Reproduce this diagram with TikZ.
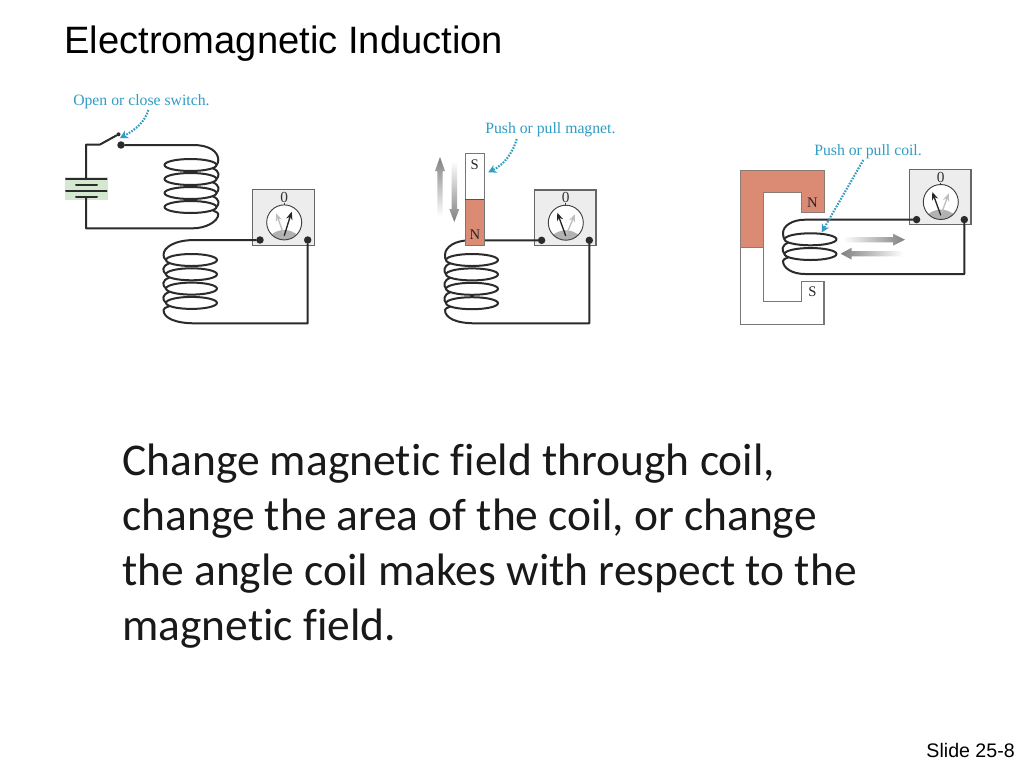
\documentclass[tikz,border=0pt]{standalone}
\usepackage{fontspec}
\setmainfont{Liberation Serif}
\newfontfamily\arialf{Liberation Sans}
\newfontfamily\bodyf[Ligatures={NoCommon,NoRare,NoContextual}]{Carlito}
\usetikzlibrary{arrows.meta}
\definecolor{wirec}{HTML}{2B2B2B}
\definecolor{salmon}{HTML}{DB8B74}
\definecolor{callout}{HTML}{2F9CC4}
\definecolor{battg}{HTML}{D3E8CF}
\definecolor{meterbg}{HTML}{EDEDEE}
\definecolor{framec}{HTML}{777777}
\tikzset{
  wire/.style={draw=wirec,line width=1.5pt,line cap=round,line join=round},
  dotn/.style={circle,fill=wirec,inner sep=0pt,minimum size=5.6pt},
  calloutlab/.style={text=callout,font=\fontsize{11.8pt}{13pt}\selectfont,anchor=base west,inner sep=0pt},
  calloutarr/.style={draw=callout,line width=1.6pt,dash pattern=on 1.2pt off 1pt,-{Stealth[length=6pt,width=6.5pt,fill=callout,line width=0pt]}},
  magnetlab/.style={text=black!85,font=\fontsize{11pt}{12pt}\selectfont,inner sep=0pt},
  bodytxt/.style={font=\bodyf\fontsize{34.1pt}{41pt}\selectfont,anchor=base west,inner sep=0pt,text=black!90},
  magframe/.style={draw=framec,line width=1pt,line join=miter},
}
\newcommand{\galvo}[7]{%
  \begin{scope}[shift={(#2,#3)}]
    \draw[fill=meterbg,draw=black!60,line width=1pt] (0,0) rectangle (61.7,55.5);
    \begin{scope}
      \clip (31.5,32.7) circle[radius=17.5];
      \fill[white] (31.5,32.7) circle[radius=17.5];
      \fill[black!30] (31.5,60.3) circle[radius=20];
    \end{scope}
    \draw[black!75,line width=0.7pt] (31.5,32.7) circle[radius=17.5];
    \draw[black!75,line width=0.7pt] (31.5,13.2) -- (31.5,15.6);
    \node[text=black!80,font=\fontsize{11.5pt}{12pt}\selectfont,inner sep=0pt] (#1z) at (31.5,7.8) {0};
    \coordinate (#1b) at (31.5,46);
    \coordinate (#1k) at (#4,#5);
    \coordinate (#1g) at (#6,#7);
    \draw[black!25,line width=1pt,-{Stealth[length=6pt,width=4.8pt]}] (#1b) -- (#1g);
    \draw[black!85,line width=1pt,-{Stealth[length=6pt,width=4.8pt]}] (#1b) -- (#1k);
    \node[dotn] (#1l) at (7.3,50.3) {};
    \node[dotn] (#1r) at (55,50.3) {};
  \end{scope}}
% coil: #1 centre x, #2 half width, #3 first y, #4 step, #5 count
\newcommand{\ellcoil}[5]{%
  \foreach \i in {1,...,#5}{
    \draw[wire] (#1,{#3+(\i-1)*#4}) ellipse[x radius=#2,y radius=6];
  }}
\begin{document}
\begin{tikzpicture}[x=0.75pt,y=-0.75pt]
\useasboundingbox (0,0) rectangle (1024,768);
\fill[white] (0,0) rectangle (1024,768);

% Title / body / footer
\node[font=\arialf\fontsize{28.6pt}{32pt}\selectfont,anchor=base west,inner sep=0pt,text=black] (title) at (64,53) {Electromagnetic Induction};
\node[bodytxt] (b1) at (122,475) {Change magnetic field through coil,};
\node[bodytxt] (b2) at (122,530) {change the area of the coil, or change};
\node[bodytxt] (b3) at (122,585) {the angle coil makes with respect to the};
\node[bodytxt] (b4) at (122,640) {magnetic field.};
\node[font=\arialf\fontsize{14.7pt}{16pt}\selectfont,anchor=base east,inner sep=0pt,text=black] (slide) at (1015,757) {Slide 25-8};

% ---------- Left apparatus
\node[calloutlab] (l1) at (73,105) {Open or close switch.};
\fill[battg] (65,176.7) rectangle (108,200);
\coordinate (battop) at (86,179);
\coordinate (batbot) at (86,197.3);
\draw[wire] (66,179) -- (106.7,179);
\draw[wire] (76,185.3) -- (97,185.3);
\draw[wire] (66,191) -- (106.7,191);
\draw[wire] (76,197.3) -- (97,197.3);
\coordinate (hinge) at (100,144.5);
\node[dotn,minimum size=3pt] (swtip) at (118.5,134.3) {};
\node[dotn] (swc) at (121,145) {};
\draw[wire] (battop) -- (86,144.5) -- (hinge) -- (swtip);
\draw[wire] (swc) -- (193,145) .. controls (210,145) and (218.3,152) .. (218.3,160) .. controls (218.3,162) and (217.5,164) .. (216.5,165);
\ellcoil{190.5}{26}{165}{14}{4}
\foreach \y in {165,179,193}{
  \draw[wire] (213,\y+3.5) .. controls (219.6,\y+6) and (219.6,\y+11) .. (216.5,\y+14);
}
\draw[wire] (213,210.5) .. controls (216.5,212) and (218.3,213) .. (218.3,214) .. controls (218.3,222) and (205,228.3) .. (193,228.3) -- (86,228.3) -- (batbot);
\galvo{ma}{252.7}{189.7}{39}{22}{23.5}{23.5}
% second coil
\draw[wire] (mal) -- (195,240) .. controls (175,240) and (163.5,247) .. (163.5,255) .. controls (163.5,257) and (164.5,259) .. (166,260);
\ellcoil{191.5}{25.5}{260}{14.3}{4}
\foreach \y in {260,274.3,288.6}{
  \draw[wire] (169,\y+3.5) .. controls (162,\y+6) and (162,\y+11) .. (166,\y+14.3);
}
\draw[wire] (169,306.4) .. controls (165.5,307.5) and (163.5,308.5) .. (163.5,310) .. controls (163.5,318) and (175,323.3) .. (195,323.3) -- (307.7,323.3) -- (mar);
\draw[calloutarr] (148.3,110) .. controls (145,122) and (135,130) .. (120,138);

% ---------- Middle apparatus
\node[calloutlab] (l2) at (485,133) {Push or pull magnet.};
\galvo{mb}{534.3}{190}{23}{22.7}{40.7}{24}
\draw[wire] (mbl) -- (470,240.3) .. controls (455,240.3) and (445,247) .. (445,255) .. controls (445,257) and (445,259) .. (446,260);
\ellcoil{472}{26}{260}{14.4}{4}
\foreach \y in {260,274.4,288.8}{
  \draw[wire] (450,\y+3.5) .. controls (443.5,\y+6) and (443.5,\y+11) .. (446,\y+14.4);
}
\draw[wire] (450,306.7) .. controls (447,307.7) and (445,308.7) .. (445,310) .. controls (445,318) and (456,323.3) .. (475,323.3) -- (589.3,323.3) -- (mbr);
\fill[salmon] (465.3,199.3) rectangle (484.3,245.7);
\draw[framec,line width=1pt] (465.3,153.3) rectangle (484.3,245.7);
\draw[framec!70!black,line width=0.6pt] (465.3,199.3) -- (484.3,199.3);
\node[magnetlab] (ms) at (474.8,165) {S};
\node[magnetlab] (mn) at (474.8,235) {N};
\shade[top color=black!50,bottom color=white]
  (440,157) -- (445,171) -- (442.7,171) -- (442.7,216) -- (437.3,216) -- (437.3,171) -- (435,171) -- cycle;
\shade[bottom color=black!50,top color=white]
  (454.3,222) -- (449.3,209) -- (451.6,209) -- (451.6,161) -- (457,161) -- (457,209) -- (459.3,209) -- cycle;
\draw[calloutarr] (516.7,139) .. controls (512,155) and (503,165) .. (488.3,172.3);

% ---------- Right apparatus
\node[calloutlab] (l3) at (814,155) {Push or pull coil.};
\draw[magframe,fill=white] (740.7,247.3) -- (740.7,324.3) -- (824,324.3) -- (824,281.7) -- (801.7,281.7) -- (801.7,301.7) -- (763.3,301.7) -- (763.3,247.3);
\fill[salmon,draw=framec!80!salmon,line width=0.7pt] (740.7,170) -- (824,170) -- (824,212.3) -- (801.7,212.3) -- (801.7,192.3) -- (763.3,192.3) -- (763.3,247.3) -- (740.7,247.3) -- cycle;
\node[magnetlab] (n3) at (812.5,203) {N};
\node[magnetlab] (s3) at (812.5,292) {S};
\galvo{mc}{909.3}{169.3}{23}{22.7}{39.5}{24}
\draw[wire] (mcl) -- (805,219.7) .. controls (792,219.7) and (783,226) .. (783,233) .. controls (783,235.5) and (783.5,238) .. (784.5,239.3);
\ellcoil{810.5}{26}{239.3}{14.7}{2}
\draw[wire] (788,242.8) .. controls (781.5,245.3) and (781.5,250.3) .. (784.5,254);
\draw[wire] (788,257.5) .. controls (785,258.5) and (783,259.5) .. (783,261) .. controls (783,268) and (792,274) .. (805,274) -- (964.3,274) -- (mcr);
\shade[left color=white,right color=black!50]
  (843,237) -- (893,237) -- (893,233.7) -- (905,239.7) -- (893,245.7) -- (893,242.4) -- (843,242.4) -- cycle;
\shade[right color=white,left color=black!50]
  (840.7,253.7) -- (851.7,247.7) -- (851.7,251) -- (903,251) -- (903,256.4) -- (851.7,256.4) -- (851.7,259.7) -- cycle;
\draw[calloutarr] (863.3,160) -- (821.7,232.3);
\end{tikzpicture}
\end{document}
